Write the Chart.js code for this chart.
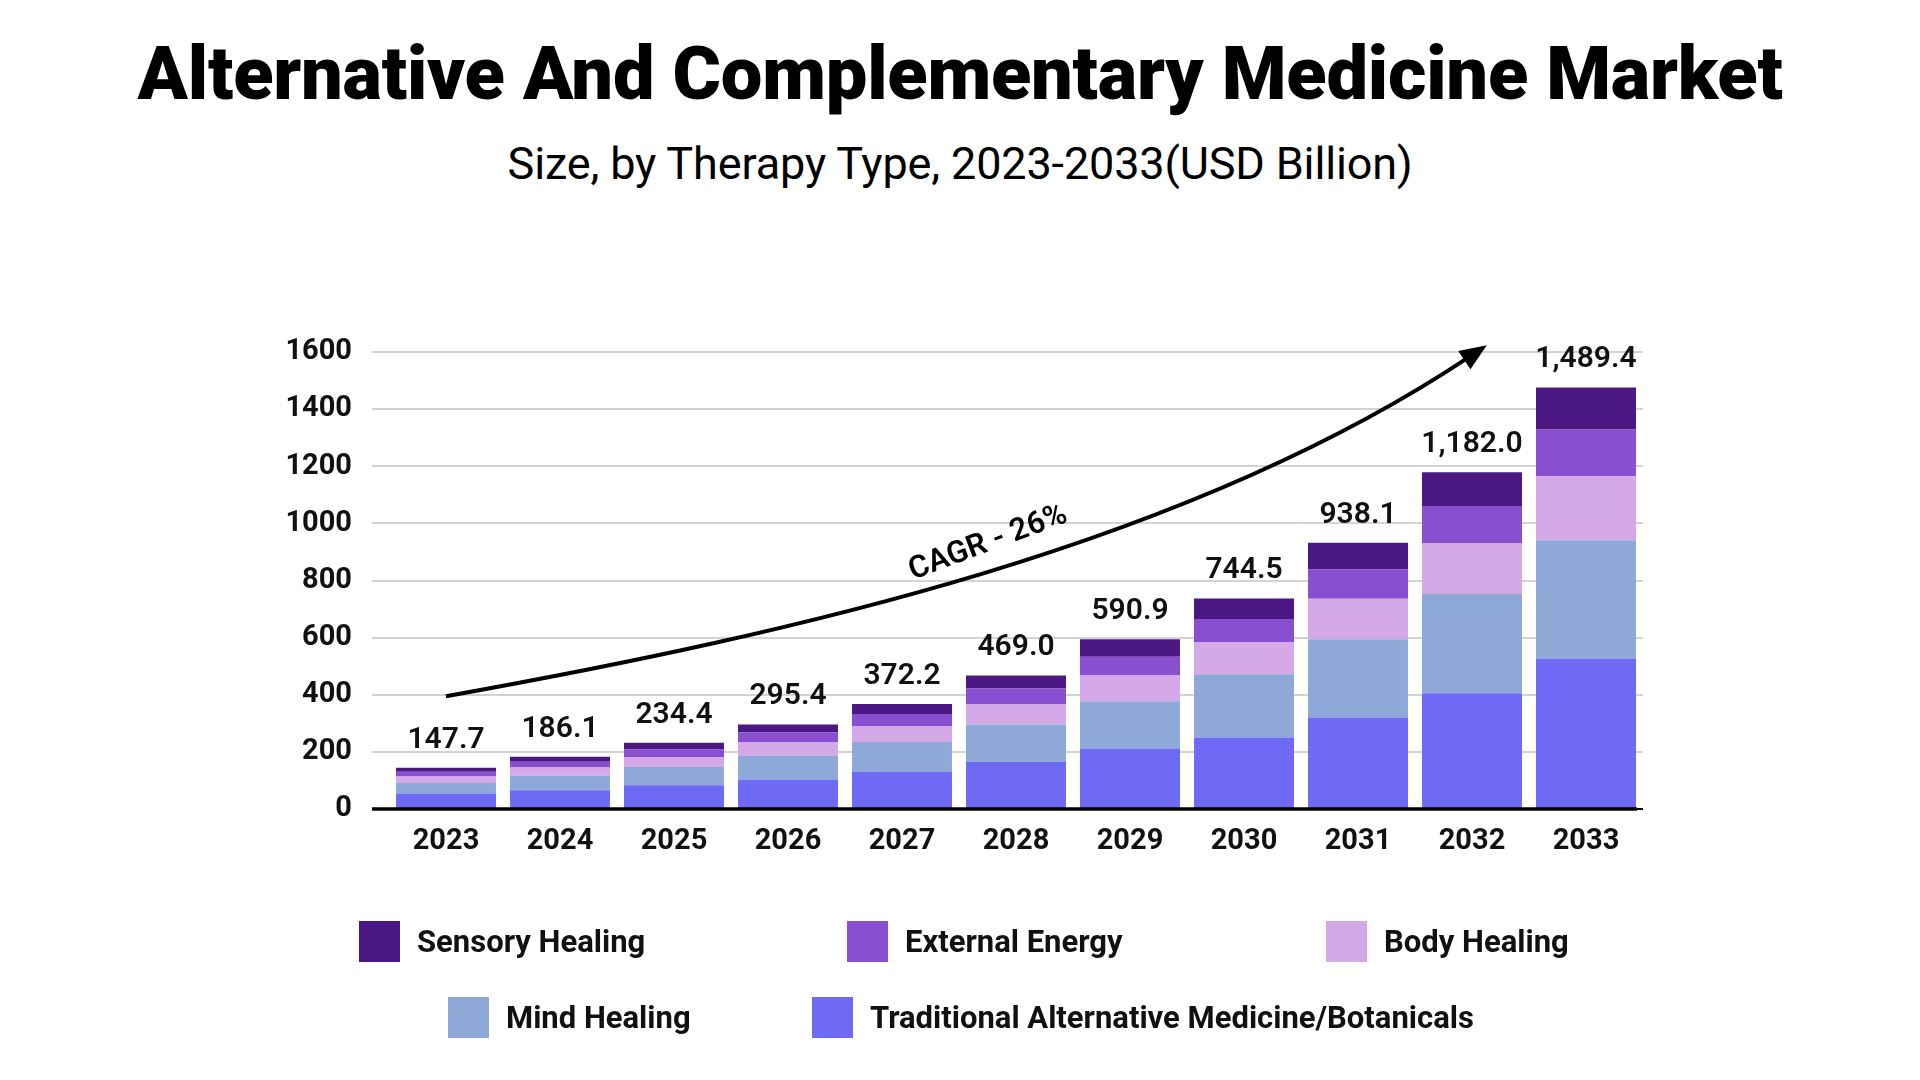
<!DOCTYPE html>
<html>
<head>
<meta charset="utf-8">
<title>Alternative And Complementary Medicine Market</title>
<script src="https://cdn.jsdelivr.net/npm/chart.js@4.4.1/dist/chart.umd.min.js"></script>
<style>
  html, body { margin: 0; padding: 0; background: #fff; }
  body { width: 1920px; height: 1080px; position: relative; overflow: hidden; }
  #chart { position: absolute; left: 0; top: 0; }
  .title {
    position: absolute; left: 0; width: 1920px; text-align: center;
    font-family: Roboto, sans-serif; font-weight: 900;
    font-size: 74px; line-height: 74px; top: 37px; color: #000; white-space: nowrap;
  }
  .subtitle {
    position: absolute; left: 0; width: 1920px; text-align: center;
    font-family: Roboto, sans-serif; font-weight: 400;
    font-size: 45px; line-height: 45px; top: 141px; color: #000; white-space: nowrap;
  }
  .title span, .subtitle span { display: inline-block; }
  .legend-item {
    position: absolute; display: flex; align-items: center; height: 42px;
    font-family: Roboto, sans-serif; font-weight: 700; font-size: 31px; color: #111;
    white-space: nowrap;
  }
  .legend-item i { display: inline-block; width: 41px; height: 41px; margin-right: 17px; }
</style>
</head>
<body>
<div class="title"><span id="title">Alternative And Complementary Medicine Market</span></div>
<div class="subtitle"><span id="subtitle">Size, by Therapy Type, 2023-2033(USD Billion)</span></div>
<canvas id="chart" width="1920" height="1080"></canvas>
<div id="legend"></div>
<script>
// data (USD billion)
const years = ["2023", "2024", "2025", "2026", "2027", "2028", "2029", "2030", "2031", "2032", "2033"];
const traditional = [54, 66, 83, 103, 130, 165, 210, 250, 320, 405, 527];
const mindHealing = [37, 50, 64, 83, 105, 131, 167, 222, 274, 348, 414];
const bodyHealing = [23, 29, 35, 47, 56, 72, 90, 111, 142, 178, 224];
const externalEnergy = [16, 20, 27, 35, 42, 54, 66, 82, 103, 130, 164];
const sensoryHealing = [14, 17.5, 23, 28, 35, 45.5, 61, 72, 93, 118, 147];
const totalLabels = ["147.7", "186.1", "234.4", "295.4", "372.2", "469.0", "590.9", "744.5", "938.1", "1,182.0", "1,489.4"];
const yTicks = [0, 200, 400, 600, 800, 1000, 1200, 1400, 1600];
const cagrText = "CAGR - 26%";
// arrow path in data space: [category index, value]
const cagrPath = [[0, 395], [3.06, 614], [6.5, 925], [9.13, 1624]];

// squeeze the heading text to the original widths
function fitWidth(id, target) {
  let el = document.getElementById(id);
  let n = el.textContent.length;
  let w = el.getBoundingClientRect().width;
  let ls = (target - w) / n;
  el.style.letterSpacing = ls + "px";
  el.style.marginRight = ls + "px";
}

const colors = {
  sensory: "#4b1783",
  external: "#8a4ed0",
  body: "#d5a9e8",
  mind: "#8ea9d7",
  traditional: "#6e6af5"
};

let datasets = [
  { label: "Traditional Alternative Medicine/Botanicals", data: traditional, backgroundColor: colors.traditional },
  { label: "Mind Healing", data: mindHealing, backgroundColor: colors.mind },
  { label: "Body Healing", data: bodyHealing, backgroundColor: colors.body },
  { label: "External Energy", data: externalEnergy, backgroundColor: colors.external },
  { label: "Sensory Healing", data: sensoryHealing, backgroundColor: colors.sensory }
];
datasets.forEach(function (d) {
  d.barPercentage = 0.877;
  d.categoryPercentage = 1;
  d.borderWidth = 0;
});

// totals above bars, baseline and CAGR arrow
const extras = {
  id: "extras",
  afterDatasetsDraw(chart) {
    let c = chart.ctx;
    let xs = chart.scales.x, ys = chart.scales.y;
    let area = chart.chartArea;

    // axis line on top of bars
    c.save();
    c.strokeStyle = "#000";
    c.lineWidth = 3.5;
    c.beginPath();
    let y0 = ys.getPixelForValue(0);
    c.moveTo(area.left - 17, y0);
    c.lineTo(area.right - 6, y0);
    c.stroke();

    // totals
    let topMeta = chart.getDatasetMeta(chart.data.datasets.length - 1);
    c.fillStyle = "#111";
    c.font = "600 30px Roboto";
    c.textAlign = "center";
    c.textBaseline = "alphabetic";
    topMeta.data.forEach(function (bar, i) {
      c.fillText(totalLabels[i], bar.x, bar.y - 20);
    });

    // CAGR curve
    let p = cagrPath.map(function (pt) {
      return [xs.getPixelForValue(pt[0]), ys.getPixelForValue(pt[1])];
    });
    let ang = Math.atan2(p[3][1] - p[2][1], p[3][0] - p[2][0]);
    let headLen = 27, headW = 11;
    let bx = p[3][0] - Math.cos(ang) * headLen * 0.8;
    let by = p[3][1] - Math.sin(ang) * headLen * 0.8;
    c.strokeStyle = "#000";
    c.lineWidth = 4;
    c.beginPath();
    c.moveTo(p[0][0], p[0][1]);
    c.bezierCurveTo(p[1][0], p[1][1], p[2][0], p[2][1], bx, by);
    c.stroke();
    let baseX = p[3][0] - Math.cos(ang) * headLen;
    let baseY = p[3][1] - Math.sin(ang) * headLen;
    c.fillStyle = "#000";
    c.beginPath();
    c.moveTo(p[3][0], p[3][1]);
    c.lineTo(baseX + Math.sin(ang) * headW, baseY - Math.cos(ang) * headW);
    c.lineTo(baseX - Math.sin(ang) * headW, baseY + Math.cos(ang) * headW);
    c.closePath();
    c.fill();

    // CAGR label
    c.translate(xs.getPixelForValue(4.78), ys.getPixelForValue(905));
    c.rotate(-20.5 * Math.PI / 180);
    c.font = "600 31px Roboto";
    c.fillStyle = "#000";
    c.fillText(cagrText, 0, 0);
    c.restore();
  }
};

new Chart(document.getElementById("chart").getContext("2d"), {
  type: "bar",
  data: { labels: years, datasets: datasets },
  plugins: [extras],
  options: {
    responsive: false,
    animation: false,
    devicePixelRatio: 1,
    layout: { padding: { top: 352, right: 277, bottom: 0, left: 0 } },
    plugins: {
      legend: { display: false },
      tooltip: { enabled: false }
    },
    scales: {
      x: {
        stacked: true,
        grid: { display: false, drawTicks: false },
        border: { display: false },
        ticks: { color: "#111", font: { family: "Roboto", size: 29, weight: "bold" }, padding: 15 },
        afterFit: function (s) { s.height = 1080 - 809; }
      },
      y: {
        stacked: true,
        min: 0,
        max: 1600,
        afterBuildTicks: function (s) { s.ticks = yTicks.map(function (v) { return { value: v }; }); },
        grid: {
          color: function (ctx) { return ctx.tick && ctx.tick.value === 0 ? "#000" : "#d3d3d3"; },
          lineWidth: 2,
          tickLength: 17
        },
        border: { display: false },
        ticks: {
          color: "#111",
          font: { family: "Roboto", size: 29, weight: "bold" },
          padding: 20,
          callback: function (v) { return String(v); }
        },
        afterFit: function (s) { s.width = 389; }
      }
    }
  }
});

// legend
const legendOrder = [4, 3, 2, 1, 0];
const legendPos = [[359, 926], [847, 926], [1326, 926], [448, 1002], [812, 1002]];
let lg = document.getElementById("legend");
legendOrder.forEach(function (di, k) {
  let d = datasets[di];
  let item = document.createElement("div");
  item.className = "legend-item";
  item.style.left = legendPos[k][0] + "px";
  item.style.top = (legendPos[k][1] - 6) + "px";
  let box = document.createElement("i");
  box.style.background = d.backgroundColor;
  item.appendChild(box);
  item.appendChild(document.createTextNode(d.label));
  lg.appendChild(item);
});

fitWidth("title", 1645);
fitWidth("subtitle", 905);
</script>
</body>
</html>
